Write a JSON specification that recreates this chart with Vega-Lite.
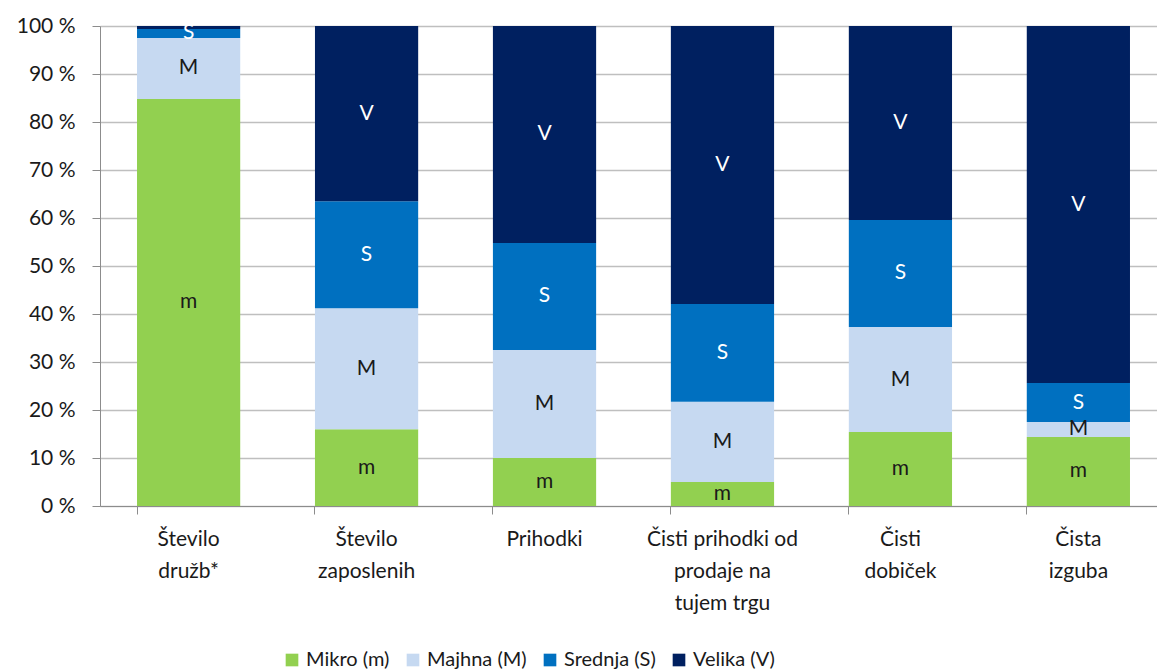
{
  "$schema": "https://vega.github.io/schema/vega-lite/v6.json",
  "width": 1067,
  "height": 480,
  "autosize": "none",
  "padding": {"left": 100, "top": 26, "right": 0, "bottom": 166},
  "background": "white",
  "config": {
    "font": "Lato",
    "view": {"stroke": null},
    "axis": {"labelFont": "Lato", "labelFontSize": 21, "labelColor": "#1a1a1a"}
  },
  "data": {
    "values": [
      {"cat": "Število|družb*", "size": "Mikro (m)", "lab": "m", "ord": 1, "v": 84.8},
      {"cat": "Število|družb*", "size": "Majhna (M)", "lab": "M", "ord": 2, "v": 12.7},
      {"cat": "Število|družb*", "size": "Srednja (S)", "lab": "S", "ord": 3, "v": 1.9},
      {"cat": "Število|družb*", "size": "Velika (V)", "lab": "", "ord": 4, "v": 0.6},
      {"cat": "Število|zaposlenih", "size": "Mikro (m)", "lab": "m", "ord": 1, "v": 16.0},
      {"cat": "Število|zaposlenih", "size": "Majhna (M)", "lab": "M", "ord": 2, "v": 25.2},
      {"cat": "Število|zaposlenih", "size": "Srednja (S)", "lab": "S", "ord": 3, "v": 22.3},
      {"cat": "Število|zaposlenih", "size": "Velika (V)", "lab": "V", "ord": 4, "v": 36.5},
      {"cat": "Prihodki", "size": "Mikro (m)", "lab": "m", "ord": 1, "v": 10.0},
      {"cat": "Prihodki", "size": "Majhna (M)", "lab": "M", "ord": 2, "v": 22.5},
      {"cat": "Prihodki", "size": "Srednja (S)", "lab": "S", "ord": 3, "v": 22.3},
      {"cat": "Prihodki", "size": "Velika (V)", "lab": "V", "ord": 4, "v": 45.2},
      {"cat": "Čisti prihodki od|prodaje na|tujem trgu", "size": "Mikro (m)", "lab": "m", "ord": 1, "v": 5.0},
      {"cat": "Čisti prihodki od|prodaje na|tujem trgu", "size": "Majhna (M)", "lab": "M", "ord": 2, "v": 16.7},
      {"cat": "Čisti prihodki od|prodaje na|tujem trgu", "size": "Srednja (S)", "lab": "S", "ord": 3, "v": 20.4},
      {"cat": "Čisti prihodki od|prodaje na|tujem trgu", "size": "Velika (V)", "lab": "V", "ord": 4, "v": 57.9},
      {"cat": "Čisti|dobiček", "size": "Mikro (m)", "lab": "m", "ord": 1, "v": 15.4},
      {"cat": "Čisti|dobiček", "size": "Majhna (M)", "lab": "M", "ord": 2, "v": 21.9},
      {"cat": "Čisti|dobiček", "size": "Srednja (S)", "lab": "S", "ord": 3, "v": 22.3},
      {"cat": "Čisti|dobiček", "size": "Velika (V)", "lab": "V", "ord": 4, "v": 40.4},
      {"cat": "Čista|izguba", "size": "Mikro (m)", "lab": "m", "ord": 1, "v": 14.4},
      {"cat": "Čista|izguba", "size": "Majhna (M)", "lab": "M", "ord": 2, "v": 3.1},
      {"cat": "Čista|izguba", "size": "Srednja (S)", "lab": "S", "ord": 3, "v": 8.1},
      {"cat": "Čista|izguba", "size": "Velika (V)", "lab": "V", "ord": 4, "v": 74.4}
    ]
  },
  "transform": [
    {"stack": "v", "groupby": ["cat"], "sort": [{"field": "ord", "order": "ascending"}], "as": ["y0", "y1"]},
    {"calculate": "(datum.y0 + datum.y1) / 2", "as": "ymid"}
  ],
  "encoding": {
    "x": {
      "field": "cat",
      "type": "nominal",
      "sort": null,
      "title": null,
      "scale": {"paddingInner": 0.42, "paddingOuter": 0.208},
      "axis": {
        "labelAngle": 0,
        "labelExpr": "split(datum.label, '|')",
        "labelLineHeight": 32,
        "labelPadding": 14,
        "bandPosition": 0,
        "tickSize": 8,
        "tickColor": "#8c8c8c",
        "domainColor": "#8c8c8c",
        "grid": false,
        "labelBaseline": "top"
      }
    }
  },
  "layer": [
    {
      "mark": {"type": "bar"},
      "encoding": {
        "y": {
          "field": "y0",
          "type": "quantitative",
          "scale": {"domain": [0, 100]},
          "title": null,
          "axis": {
            "values": [0, 10, 20, 30, 40, 50, 60, 70, 80, 90, 100],
            "labelExpr": "datum.value + ' %'",
            "grid": true,
            "gridColor": "#bfbfbf",
            "gridWidth": 1.5,
            "gridOpacity": 1,
            "tickSize": 8,
            "tickColor": "#8c8c8c",
            "domainColor": "#8c8c8c",
            "labelPadding": 17
          }
        },
        "y2": {"field": "y1"},
        "color": {
          "field": "size",
          "type": "nominal",
          "scale": {
            "domain": ["Mikro (m)", "Majhna (M)", "Srednja (S)", "Velika (V)"],
            "range": ["#92D050", "#C6D9F1", "#0070C0", "#002060"]
          },
          "legend": {
            "title": null,
            "orient": "none",
            "legendX": 182,
            "legendY": 624,
            "direction": "horizontal",
            "symbolType": "square",
            "symbolSize": 160,
            "symbolStrokeWidth": 0,
            "labelFont": "Lato",
            "labelFontSize": 20,
            "labelColor": "#1a1a1a",
            "columnPadding": 13,
            "labelOffset": 4
          }
        }
      }
    },
    {
      "mark": {"type": "text", "fontSize": 21, "font": "Lato"},
      "encoding": {
        "y": {"field": "ymid", "type": "quantitative"},
        "text": {"field": "lab"},
        "color": {
          "condition": {"test": "datum.lab === 'S' || datum.lab === 'V'", "value": "white"},
          "value": "#1a1a1a"
        }
      }
    }
  ]
}
